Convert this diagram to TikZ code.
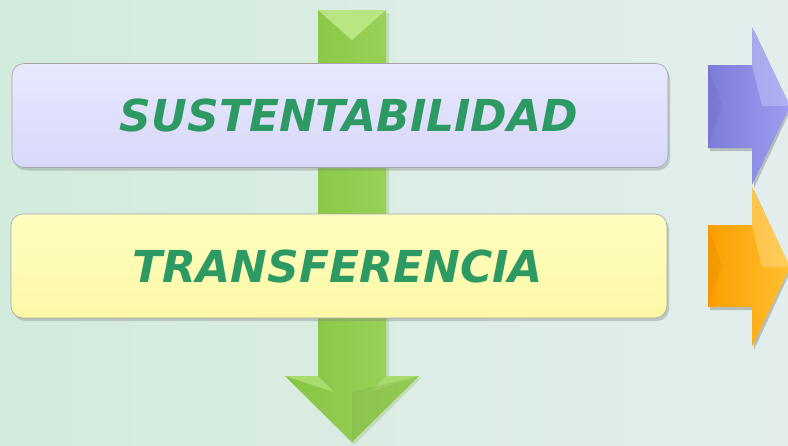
\documentclass[tikz,border=0pt]{standalone}
\usepackage{fontspec}
\setmainfont{DejaVu Sans}
\usetikzlibrary{shadows}
\definecolor{bgA}{HTML}{D2EBDC}
\definecolor{bgB}{HTML}{E3EEEC}
\definecolor{txtgreen}{HTML}{2E9A63}
\definecolor{lavTop}{HTML}{E8E8FE}
\definecolor{lavBot}{HTML}{D8D8FA}
\definecolor{yelTop}{HTML}{FFFDC0}
\definecolor{yelBot}{HTML}{FCF8A6}
\definecolor{grnL}{HTML}{86C443}
\definecolor{grnR}{HTML}{9CD65C}
\definecolor{grnHi}{HTML}{B8E682}
\definecolor{purA}{HTML}{7C7CDA}
\definecolor{purB}{HTML}{9C9CF0}
\definecolor{oraA}{HTML}{FB9E00}
\definecolor{oraB}{HTML}{FFC030}
\tikzset{
  bar/.style={rounded corners=12pt, draw=black!35, line width=0.6pt,
    minimum width=656pt, minimum height=104pt, inner sep=0pt,
    drop shadow={shadow xshift=2pt, shadow yshift=-3pt, opacity=0.35}},
  lavbar/.style={bar, top color=lavTop, bottom color=lavBot},
  yelbar/.style={bar, top color=yelTop, bottom color=yelBot},
  bartext/.style={font=\fontsize{44}{50}\selectfont\bfseries\itshape, text=txtgreen, inner sep=0pt},
}
\begin{document}
\begin{tikzpicture}[x=1pt,y=-1pt]
\useasboundingbox (0,0) rectangle (788,445);
\shade[left color=bgA, right color=bgB] (0,0) rectangle (788,445);
% green vertical arrow
\begin{scope}
\fill[grnL!90!black, opacity=0.25] (320,13) -- (389,13) -- (389,378) -- (421,378) -- (354,445) -- (287,378) -- (320,378) -- cycle;
\shade[left color=grnL, right color=grnR] (318,10) -- (386,10) -- (386,376) -- (419,376) -- (352,442) -- (285,376) -- (318,376) -- cycle;
\fill[grnHi] (318,10) -- (386,10) -- (352,40) -- cycle;
\fill[grnHi!70!grnL] (285,376) -- (318,376) -- (334,392) -- cycle;
\fill[grnHi!70!grnL] (419,376) -- (386,376) -- (370,392) -- cycle;
\fill[grnR!85!black, opacity=0.4] (352,442) -- (352,392) -- (419,376) -- cycle;
\end{scope}
% bars
\node[lavbar] (sust) at (340,115.5) {};
\node[bartext] (sustT) at ([xshift=9pt]sust.center) {SUSTENTABILIDAD};
\node[yelbar] (trans) at (339,266) {};
\node[bartext] (transT) at ([xshift=-1pt]trans.center) {TRANSFERENCIA};
% purple arrow
\fill[black, opacity=0.2] (710,68) -- (754,68) -- (754,30) -- (791,109) -- (754,188) -- (754,151) -- (710,151) -- cycle;
\shade[left color=purA, right color=purB] (708,65) -- (752,65) -- (752,27) -- (790,106) -- (752,185) -- (752,148) -- (708,148) -- cycle;
\fill[purB!60!white, opacity=0.5] (752,27) -- (790,106) -- (762,106) -- (752,65) -- cycle;
\fill[purA!85!black, opacity=0.25] (708,65) -- (722,106) -- (708,148) -- cycle;
% orange arrow
\fill[black, opacity=0.2] (710,228) -- (754,228) -- (754,190) -- (791,270) -- (754,350) -- (754,310) -- (710,310) -- cycle;
\shade[left color=oraA, right color=oraB] (708,225) -- (752,225) -- (752,187) -- (790,267) -- (752,347) -- (752,307) -- (708,307) -- cycle;
\fill[oraB!60!white, opacity=0.5] (752,187) -- (790,267) -- (762,267) -- (752,225) -- cycle;
\fill[oraA!85!black, opacity=0.25] (708,225) -- (722,266) -- (708,307) -- cycle;
\end{tikzpicture}
\end{document}
